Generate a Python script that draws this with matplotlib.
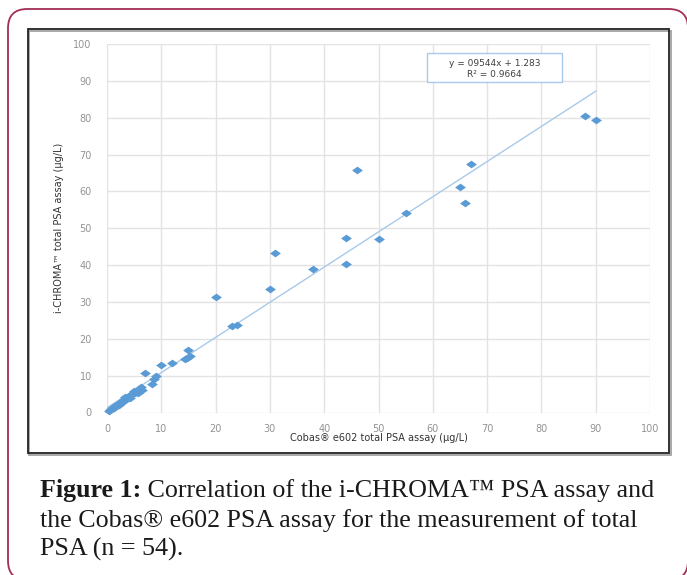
import matplotlib
matplotlib.use("Agg")
import matplotlib.pyplot as plt
from matplotlib.patches import Rectangle, FancyBboxPatch
import numpy as np

# ---- data ----
cobas_high = [46, 67, 65, 66, 55, 44, 50, 31, 44, 38, 20, 30, 23, 24, 88, 90]
chroma_high = [65.9, 67.3, 61.3, 56.9, 54.1, 47.3, 47.1, 43.4, 40.3, 39.0, 31.4, 33.5, 23.5, 23.8, 80.5, 79.3]
cobas_mid = [15.0, 14.3, 14.8, 15.3, 12.0, 10.0, 7.0, 9.0, 8.6, 8.3, 6.2, 4.9]
chroma_mid = [17.0, 14.4, 14.8, 15.2, 13.3, 13.0, 10.7, 10.0, 9.1, 7.6, 7.0, 5.9]
cobas_low = [0.3, 0.5, 0.8, 1.0, 1.2, 1.4, 1.6, 1.8, 2.0, 2.2, 2.5, 2.7, 3.0,
             3.2, 3.3, 3.6, 3.9, 4.1, 4.3, 4.6, 4.8, 5.1, 5.4, 5.7, 6.0, 6.5]
chroma_low = [0.4, 0.8, 0.9, 1.3, 1.1, 1.7, 1.9, 2.0, 2.4, 2.1, 2.8, 3.0, 3.3,
              3.0, 4.2, 3.8, 4.1, 4.6, 3.9, 4.9, 5.2, 5.4, 5.8, 5.3, 6.2, 6.0]
cobas = cobas_high + cobas_mid + cobas_low
chroma = chroma_high + chroma_mid + chroma_low

slope = 0.9544
intercept = 1.283
trend_x = [0, 90]
ticks = [0, 10, 20, 30, 40, 50, 60, 70, 80, 90, 100]
eq_text = "y = 09544x + 1.283"
r2_text = "R² = 0.9664"
xlabel = "Cobas® e602 total PSA assay (µg/L)"
ylabel = "i-CHROMA™ total PSA assay (µg/L)"
cap_bold = "Figure 1:"
cap_line1 = " Correlation of the i-CHROMA™ PSA assay and"
cap_line2 = "the Cobas® e602 PSA assay for the measurement of total"
cap_line3 = "PSA (n = 54)."

W, H = 687, 575
fig = plt.figure(figsize=(W / 100, H / 100), dpi=100)
fig.patch.set_facecolor("white")

def fx(px):
    return px / W

def fy(py):
    return 1 - py / H

# outer rounded border (right/bottom run off the image as in the reference)
fig.patches.append(FancyBboxPatch((fx(8), fy(580)), fx(688) - fx(8), fy(9) - fy(580),
                                  boxstyle="round,pad=0,rounding_size=0.028",
                                  transform=fig.transFigure, fill=False,
                                  edgecolor="#a22d57", linewidth=1.3,
                                  mutation_aspect=W / H))
# chart frame (double line)
fig.patches.append(Rectangle((fx(29), fy(455)), fx(671) - fx(29), fy(31) - fy(455),
                             transform=fig.transFigure, fill=False,
                             edgecolor="#9a9a9a", linewidth=1.2))
fig.patches.append(Rectangle((fx(28), fy(453)), fx(669) - fx(28), fy(29) - fy(453),
                             transform=fig.transFigure, fill=False,
                             edgecolor="#222222", linewidth=1.3))

ax_l, ax_r, ax_t, ax_b = 107, 650, 44, 412.5
ax = fig.add_axes([fx(ax_l), fy(ax_b), fx(ax_r) - fx(ax_l), fy(ax_t) - fy(ax_b)])
ax.set_xlim(0, 100)
ax.set_ylim(0, 100)
ax.set_xticks(ticks)
ax.set_yticks(ticks)
ax.grid(True, color="#e3e3e3", linewidth=1.0)
ax.set_axisbelow(True)
for s in ax.spines.values():
    s.set_visible(False)
ax.tick_params(length=0, labelsize=7, labelcolor="#939393")
ax.tick_params(axis="y", pad=11)
ax.tick_params(axis="x", pad=8)

tx = np.array(trend_x, dtype=float)
ax.plot(tx, slope * tx + intercept, color="#a8c9ea", linewidth=1.0, zorder=2)

diamond = [(-1.4, 0), (0, 1), (1.4, 0), (0, -1), (-1.4, 0)]
ax.plot(cobas, chroma, linestyle="none", marker=diamond, markersize=7.8,
        color="#5b9bd5", markeredgewidth=0, zorder=3, clip_on=False)

ax.set_xlabel(xlabel, fontsize=7, color="#333333")
ax.xaxis.set_label_coords(0.5, -0.055)
ax.set_ylabel(ylabel, fontsize=7, color="#333333")
ax.yaxis.set_label_coords(-0.08, 0.5)

# equation box
bx0, bx1, by0, by1 = 427, 562, 53, 82
ax.add_patch(Rectangle((fx(bx0), fy(by1)), fx(bx1) - fx(bx0), fy(by0) - fy(by1),
                       transform=fig.transFigure, fill=True, facecolor="white",
                       edgecolor="#a8c9ea", linewidth=1.0, zorder=4))
fig.text(fx((bx0 + bx1) / 2), fy(63.5), eq_text, ha="center", va="center",
         fontsize=6.5, color="#404040", zorder=5)
fig.text(fx((bx0 + bx1) / 2), fy(74.5), r2_text, ha="center", va="center",
         fontsize=6.5, color="#404040", zorder=5)

# caption
serif = ["Liberation Serif", "DejaVu Serif"]
fs = 17
renderer = fig.canvas.get_renderer()
t_b = fig.text(fx(40), fy(497), cap_bold, fontsize=fs, fontweight="bold",
               family=serif, color="#1a1a1a", va="baseline")
t_1 = fig.text(0, fy(497), cap_line1, fontsize=fs, family=serif,
               color="#1a1a1a", va="baseline")
wb = t_b.get_window_extent(renderer).width
w1 = t_1.get_window_extent(renderer).width
scale = (656 - 40) / (wb + w1)
fs2 = fs * scale
t_b.set_fontsize(fs2)
t_1.set_fontsize(fs2)
wb = t_b.get_window_extent(renderer).width
t_1.set_x(fx(40 + wb))
fig.text(fx(40), fy(527), cap_line2, fontsize=fs2, family=serif,
         color="#1a1a1a", va="baseline")
fig.text(fx(40), fy(556), cap_line3, fontsize=fs2, family=serif,
         color="#1a1a1a", va="baseline")

fig.savefig("out.png", dpi=100, facecolor="white")
